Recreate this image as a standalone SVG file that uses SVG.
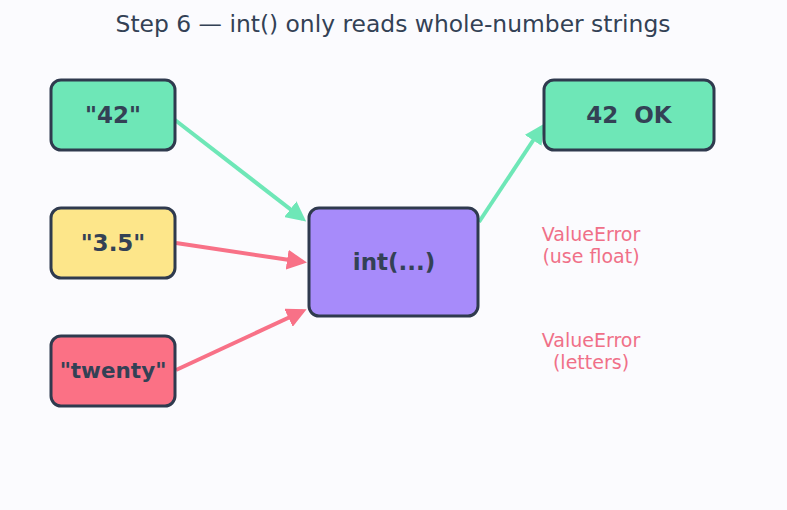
<svg xmlns="http://www.w3.org/2000/svg" width="787" height="510" viewBox="0 0 787 510">
<style>
.node rect{stroke:#2f3a4e;stroke-width:3}
.lbl{font-family:"DejaVu Sans",sans-serif;font-weight:bold;font-size:23px;fill:#334155;text-anchor:middle;white-space:pre}
.err{font-family:"DejaVu Sans",sans-serif;font-size:19px;fill:#f07088;text-anchor:middle}
.title{font-family:"DejaVu Sans",sans-serif;font-size:23.4px;fill:#334155;text-anchor:middle}
.g{stroke:#6ee7b7;stroke-width:4;fill:none}
.r{stroke:#f87187;stroke-width:4;fill:none}
</style>
<defs>
<marker id="ag" viewBox="0 0 10 10" refX="8" refY="5" markerWidth="5" markerHeight="5" orient="auto" markerUnits="strokeWidth"><path d="M0,0 L10,5 L0,10 z" fill="#6ee7b7"/></marker>
<marker id="ar" viewBox="0 0 10 10" refX="8" refY="5" markerWidth="5" markerHeight="5" orient="auto" markerUnits="strokeWidth"><path d="M0,0 L10,5 L0,10 z" fill="#f87187"/></marker>
</defs>
<rect width="787" height="510" fill="#fbfbfe"/>
<text class="title" x="393" y="32">Step 6 — int() only reads whole-number strings</text>
<g id="connectors">
<line class="g" x1="175" y1="120" x2="303" y2="219" marker-end="url(#ag)"/>
<line class="r" x1="176" y1="243" x2="303" y2="262" marker-end="url(#ar)"/>
<line class="r" x1="176" y1="370" x2="303" y2="311" marker-end="url(#ar)"/>
<line class="g" x1="479" y1="222" x2="542" y2="127" marker-end="url(#ag)"/>
</g>
<g id="n42" class="node"><rect x="51" y="80" width="124" height="70" rx="10" fill="#6ee7b7"/><text class="lbl" x="113" y="123">"42"</text></g>
<g id="n35" class="node"><rect x="51" y="208" width="124" height="70" rx="10" fill="#fde68a"/><text class="lbl" x="113" y="251">"3.5"</text></g>
<g id="ntwenty" class="node"><rect x="51" y="336" width="124" height="70" rx="10" fill="#fb7185"/><text class="lbl" x="113" y="378" style="font-size:21.5px">"twenty"</text></g>
<g id="nint" class="node"><rect x="309" y="208" width="169" height="108" rx="10" fill="#a78bfa"/><text class="lbl" x="394" y="270">int(...)</text></g>
<g id="nok" class="node"><rect x="544" y="80" width="170" height="70" rx="10" fill="#6ee7b7"/><text class="lbl" x="629" y="123" xml:space="preserve">42  OK</text></g>
<g id="err1"><text class="err" x="591" y="241">ValueError</text><text class="err" x="591" y="263">(use float)</text></g>
<g id="err2"><text class="err" x="591" y="347">ValueError</text><text class="err" x="591" y="369">(letters)</text></g>
</svg>
